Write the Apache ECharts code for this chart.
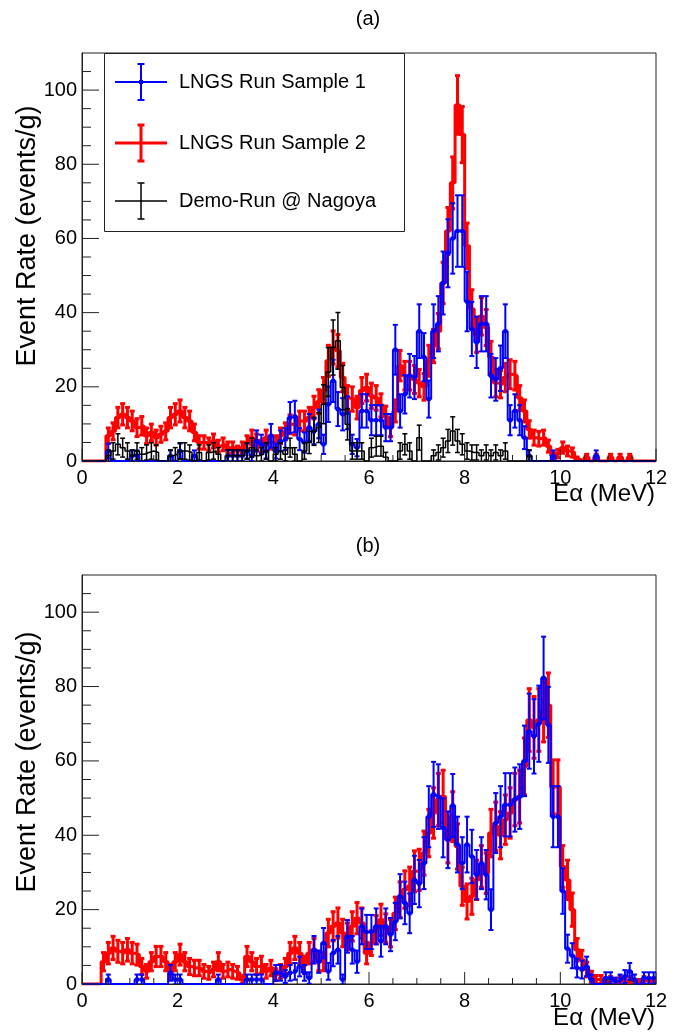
<!DOCTYPE html>
<html>
<head>
<meta charset="utf-8">
<script src="https://cdn.jsdelivr.net/npm/echarts@6/dist/echarts.min.js"></script>
<style>
  html, body { margin: 0; padding: 0; background: #fff; }
  #chart { width: 683px; height: 1032px; }
</style>
</head>
<body>
<div id="chart"></div>
<script>
// bins of 0.1 MeV from 0 to 12 MeV
var binWidth = 0.1;
var xTicks = [0, 2, 4, 6, 8, 10, 12];
var yTicks = [0, 20, 40, 60, 80, 100];

// panel (a)
var redA = [
  0, 0, 0, 0, 0, 6.8, 8, 11.7, 12.6, 11.7,
  10.8, 9, 9.5, 6.8, 7.7, 6.3, 7.2, 8, 11.7, 12.6,
  13.5, 11.7, 10.8, 7.7, 5, 5, 4.5, 5.4, 4, 4.5,
  3.6, 3.6, 2.7, 3.6, 5, 6.3, 5.4, 4, 6.3, 5,
  5, 6.8, 8, 9.9, 9.5, 10.8, 10.8, 11.7, 14.4, 16,
  19, 27, 30.6, 29.7, 22.5, 17, 16.7, 14.4, 19, 19.8,
  17.6, 17, 15, 12, 9, 13.5, 25.7, 23, 23, 22,
  21, 20, 27, 31, 35, 48, 62, 75, 96, 88,
  58, 41, 34, 39, 36, 28, 21, 20.7, 22.5, 23.4,
  23, 17, 13.5, 8.5, 6.3, 6, 6.3, 4, 1.4, 2,
  3.6, 2.7, 2.3, 0.5, 0, 1, 0, 1, 0, 0,
  1, 0, 1, 0, 1, 0, 0, 0, 0, 0
];
var blueA = [
  0, 0, 0, 0, 0, 2.7, 0, 0, 0, 0,
  1.4, 1.4, 0, 0, 0, 0, 0, 0, 1.4, 0,
  2.7, 0, 0, 1.4, 0, 0, 0, 0, 0, 0,
  1.4, 1.4, 1.4, 1.4, 2.7, 1.4, 5.4, 4.5, 2.7, 6.8,
  2.7, 5.4, 5.9, 11.7, 12, 5.9, 5, 9, 8, 10,
  4.5, 15.3, 21.6, 14, 12.6, 13, 4.5, 3.6, 13.5, 13.5,
  11, 11, 11, 9, 9, 30, 13.5, 18, 23, 22.5,
  35, 28, 16.7, 35, 37, 48, 56, 60, 62, 62,
  43, 35.6, 32, 37, 37, 23, 22, 25, 35, 11,
  13.5, 11, 6.3, 1.4, 0, 0, 0, 0, 1.4, 0,
  0, 0, 0, 0, 0, 0, 0, 1.4, 0, 0,
  0, 0, 0, 0, 0, 0, 0, 0, 0, 0
];
var blackA = [
  0, 0, 0, 0, 0, 1.4, 2.7, 4.5, 3.6, 2.7,
  1.4, 2.7, 1.8, 2.3, 2.7, 2.3, 0, 0, 1.4, 1.8,
  2.7, 2.7, 2.3, 0, 2.3, 0, 2.3, 2.7, 1.8, 0,
  1.4, 1.4, 1.4, 1.4, 2.7, 3.6, 1.4, 1.8, 2.7, 0,
  1.8, 2.7, 1.8, 3.6, 1.8, 0, 2.7, 5, 8, 9,
  15.3, 24, 30.6, 32.4, 19.8, 9.9, 2.7, 2.7, 2.7, 0,
  3.6, 4, 4, 1, 0, 0, 2.7, 4.5, 2.7, 0,
  6.3, 0, 0, 1.4, 2.3, 3.6, 5.4, 8.1, 5.4, 4.5,
  2.7, 2.3, 2.3, 1.4, 2.3, 1.4, 2.3, 1.4, 2.7, 0,
  0, 0, 0, 1.4, 0, 0, 0, 0, 0, 0,
  0, 0, 0, 0, 0, 0, 0, 0, 0, 0,
  0, 0, 0, 0, 0, 0, 0, 0, 0, 0
];

// panel (b)
var redB = [
  0, 0, 0, 0, 6, 8.3, 9.7, 8.8, 8.3, 9.2,
  8.3, 7.9, 4.7, 3.4, 6, 7.4, 7.4, 6, 3.4, 6,
  7.9, 6, 4.7, 4.3, 4.3, 3.4, 3, 3.9, 6, 3.4,
  3.9, 3.4, 3, 1.2, 7.4, 6, 4.7, 5.2, 3.4, 4.3,
  2.5, 3.4, 4.7, 8.3, 9.7, 8.3, 5.2, 8.3, 9.2, 6,
  6, 13.7, 15.5, 16.4, 13.7, 12.8, 15.5, 17.7, 16.4, 8.3,
  11, 14.6, 17.3, 15, 13.7, 19, 22.7, 25.4, 26.3, 30.3,
  30.7, 35.2, 40.6, 46, 49.6, 50.4, 38.8, 45, 37, 26.3,
  22.2, 23.6, 28, 31.6, 29.8, 40.6, 42.4, 40, 44.2, 46,
  49.6, 50.4, 58.5, 71, 69, 71, 73.7, 75, 53, 53,
  31.6, 28, 20, 9.2, 6.5, 3.9, 2, 1.2, 1.2, 0.5,
  1, 0.5, 1, 0.5, 1, 0.5, 0.5, 1, 0.5, 0.5
];
var blueB = [
  0, 0, 0, 0, 0, 1.2, 0, 0, 0, 0,
  0, 1.2, 1.2, 0, 0, 0, 0, 0, 3, 1.2,
  1.2, 0, 0, 0, 0, 0, 0, 0, 1.2, 0,
  0, 0, 0, 0, 1.2, 1.2, 1.2, 1.2, 0, 0,
  3, 3, 2, 3, 3.4, 4.7, 3, 1.6, 9.2, 6,
  11, 3.4, 8.3, 9.2, 1.2, 12.8, 9.2, 6, 15.5, 14,
  14, 15.5, 11.5, 15.5, 13.3, 16.8, 23.6, 21.8, 19, 28,
  27, 32.5, 45, 51, 50.4, 42, 38.8, 48, 37.5, 32.5,
  37.5, 34.3, 29.4, 32.5, 29.4, 20, 43.3, 45, 48.2, 48.2,
  49.6, 50.4, 60, 68, 66.6, 70, 82.3, 69.7, 45, 45,
  25, 9.5, 7.6, 4.3, 3.9, 4.7, 1.2, 0, 0, 1.6,
  1.6, 0.7, 1.2, 2, 3.4, 1.2, 0, 1.6, 1.6, 1.6
];

var FONT = '"Liberation Sans", Arial, sans-serif';
var RED = '#ff0000', BLUE = '#0000ff', BLACK = '#000000', AXIS = '#222';

function stepData(vals) {
  var d = [];
  for (var i = 0; i < vals.length; i++) d.push([+(i * binWidth).toFixed(2), vals[i]]);
  d.push([+(vals.length * binWidth).toFixed(2), vals[vals.length - 1]]);
  return d;
}

// error = sqrt(rate * k), k per sample (rate per count)
function errData(vals, k) {
  var d = [];
  for (var i = 0; i < vals.length; i++) {
    if (vals[i] > 0) d.push([+((i + 0.5) * binWidth).toFixed(2), vals[i], Math.sqrt(vals[i] * k)]);
  }
  return d;
}

function errorBars(color, lw, marker) {
  return function (params, api) {
    var x = api.value(0), v = api.value(1), e = api.value(2);
    var pc = api.coord([x, v]);
    var pt = api.coord([x, v + e]);
    var pb = api.coord([x, v - e]);
    var st = { stroke: color, lineWidth: lw };
    var cap = 2.5;
    var kids = [
      { type: 'line', shape: { x1: pc[0], y1: pt[1], x2: pc[0], y2: pb[1] }, style: st },
      { type: 'line', shape: { x1: pc[0] - cap, y1: pt[1], x2: pc[0] + cap, y2: pt[1] }, style: st },
      { type: 'line', shape: { x1: pc[0] - cap, y1: pb[1], x2: pc[0] + cap, y2: pb[1] }, style: st }
    ];
    if (marker) {
      kids.push({ type: 'rect', shape: { x: pc[0] - 2, y: pc[1] - 2, width: 4, height: 4 }, style: { fill: color } });
    }
    return { type: 'group', children: kids };
  };
}

function histSeries(panel, vals, color, lw, k, marker, z) {
  return [
    {
      type: 'line', xAxisIndex: panel, yAxisIndex: panel,
      data: stepData(vals), step: 'end', showSymbol: false, silent: true,
      lineStyle: { color: color, width: lw }, z: z, animation: false
    },
    {
      type: 'custom', xAxisIndex: panel, yAxisIndex: panel,
      data: errData(vals, k), renderItem: errorBars(color, lw, marker),
      encode: { x: 0, y: 1 }, clip: true, silent: true, z: z, animation: false
    }
  ];
}

// ROOT-style inward ticks: [axis, value, length]
function tickData() {
  var d = [], v;
  for (v = 0; v <= 12; v += 0.5) d.push([0, v, xTicks.indexOf(v) >= 0 ? 12 : 6]);
  for (v = 0; v <= 105; v += 5) d.push([1, v, yTicks.indexOf(v) >= 0 ? 17 : 9]);
  return d;
}

function tickSeries(panel) {
  return {
    type: 'custom', xAxisIndex: panel, yAxisIndex: panel, data: tickData(),
    silent: true, clip: false, z: 10, animation: false,
    renderItem: function (params, api) {
      var ax = api.value(0), v = api.value(1), len = api.value(2);
      var p, shape;
      if (ax === 0) {
        p = api.coord([v, 0]);
        shape = { x1: p[0], y1: p[1], x2: p[0], y2: p[1] - len };
      } else {
        p = api.coord([0, v]);
        shape = { x1: p[0], y1: p[1], x2: p[0] + len, y2: p[1] };
      }
      return { type: 'line', shape: shape, style: { stroke: AXIS, lineWidth: 1 } };
    }
  };
}

var grids = [
  { left: 82, right: 27, top: 53, height: 408 },
  { left: 82, right: 27, top: 575, height: 409 }
];

var xAxes = [], yAxes = [];
for (var g = 0; g < 2; g++) {
  xAxes.push({
    type: 'value', gridIndex: g, position: 'bottom', min: 0, max: 12, interval: 2,
    axisLine: { onZero: false, lineStyle: { color: AXIS, width: 1 } },
    axisTick: { show: false },
    axisLabel: { fontFamily: FONT, fontSize: 20, color: '#000', margin: 7 },
    splitLine: { show: false }
  });
  yAxes.push({
    type: 'value', gridIndex: g, position: 'left', min: 0, max: 110, interval: 20,
    axisLine: { show: true, onZero: false, lineStyle: { color: AXIS, width: 1 } },
    axisTick: { show: false },
    axisLabel: { fontFamily: FONT, fontSize: 20, color: '#000', margin: 5, showMaxLabel: false,
      formatter: function (v) { return yTicks.indexOf(v) >= 0 ? String(v) : ''; } },
    splitLine: { show: false }
  });
}

var series = []
  .concat(histSeries(0, redA, RED, 3, 0.65, false, 2))
  .concat(histSeries(0, blueA, BLUE, 2, 1.5, true, 3))
  .concat(histSeries(0, blackA, BLACK, 1.5, 1.8, false, 4))
  .concat(histSeries(1, redB, RED, 3, 1.0, false, 2))
  .concat(histSeries(1, blueB, BLUE, 2, 1.5, true, 3))
  .concat([tickSeries(0), tickSeries(1)]);

function legendRow(y, color, lw, label, marker) {
  var st = { stroke: color, lineWidth: lw };
  var kids = [
    { type: 'line', shape: { x1: 115, y1: y, x2: 167, y2: y }, style: st },
    { type: 'line', shape: { x1: 141, y1: y - 18, x2: 141, y2: y + 18 }, style: st },
    { type: 'line', shape: { x1: 137.5, y1: y - 18, x2: 144.5, y2: y - 18 }, style: st },
    { type: 'line', shape: { x1: 137.5, y1: y + 18, x2: 144.5, y2: y + 18 }, style: st },
    { type: 'text', x: 179, y: y, style: { text: label, font: '20px ' + FONT, fill: '#000', verticalAlign: 'middle' } }
  ];
  if (marker) kids.push({ type: 'rect', shape: { x: 139, y: y - 2, width: 4, height: 4 }, style: { fill: color } });
  return kids;
}

var graphics = [
  { type: 'text', x: 368, y: 19, style: { text: '(a)', font: '20px ' + FONT, fill: '#000', align: 'center', verticalAlign: 'middle' } },
  { type: 'text', x: 368, y: 546, style: { text: '(b)', font: '20px ' + FONT, fill: '#000', align: 'center', verticalAlign: 'middle' } },
  { type: 'text', x: 28, y: 236, rotation: Math.PI / 2, style: { text: 'Event Rate (events/g)', font: '27px ' + FONT, fill: '#000', align: 'center', verticalAlign: 'middle' } },
  { type: 'text', x: 28, y: 762, rotation: Math.PI / 2, style: { text: 'Event Rate (events/g)', font: '27px ' + FONT, fill: '#000', align: 'center', verticalAlign: 'middle' } },
  { type: 'text', x: 655, y: 494, style: { text: 'E\u03b1 (MeV)', font: '24px ' + FONT, fill: '#000', align: 'right', verticalAlign: 'middle' } },
  { type: 'text', x: 655, y: 1018, style: { text: 'E\u03b1 (MeV)', font: '24px ' + FONT, fill: '#000', align: 'right', verticalAlign: 'middle' } },
  {
    type: 'group', z: 100,
    children: [
      { type: 'rect', shape: { x: 104.5, y: 53.5, width: 300, height: 178 }, style: { fill: '#fff', stroke: AXIS, lineWidth: 1 } }
    ]
    .concat(legendRow(82, BLUE, 2, 'LNGS Run Sample 1', true))
    .concat(legendRow(143, RED, 3, 'LNGS Run Sample 2', false))
    .concat(legendRow(201, BLACK, 1.5, 'Demo-Run @ Nagoya', false))
  }
];

var chart = echarts.init(document.getElementById('chart'));
chart.setOption({
  backgroundColor: '#fff',
  animation: false,
  grid: grids.map(function (gr) { return Object.assign({ show: true, borderColor: AXIS, borderWidth: 1, backgroundColor: 'transparent' }, gr); }),
  xAxis: xAxes,
  yAxis: yAxes,
  series: series,
  graphic: graphics
});
</script>
</body>
</html>
